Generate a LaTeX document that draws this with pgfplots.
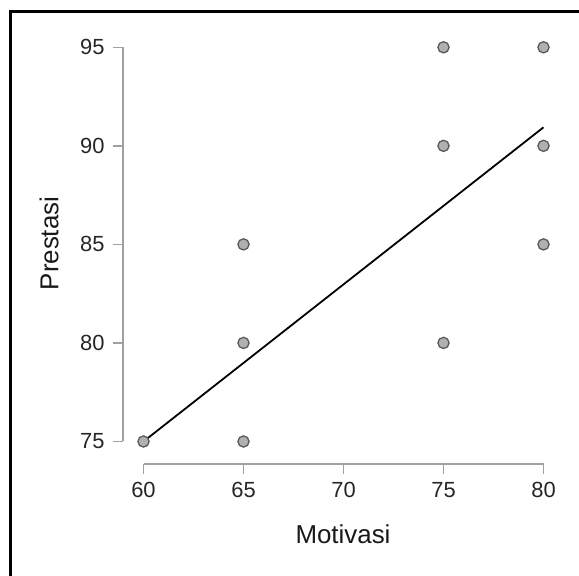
\documentclass[border=0pt]{standalone}
\usepackage{pgfplots}
\pgfplotsset{compat=1.18}
\usepackage{fontspec}
\setmainfont{Liberation Sans}
\definecolor{axgray}{HTML}{A0A0A0}
\definecolor{ptfill}{HTML}{B0B0B0}
\definecolor{ptedge}{HTML}{5A5A5A}
\begin{document}
\begin{tikzpicture}[x=1bp,y=1bp]
\useasboundingbox (0,0) rectangle (579,576);
\draw[line width=3bp,black] (10.5,-5) -- (10.5,564.5) -- (590,564.5);
\begin{axis}[
  at={(123bp,112bp)}, anchor=south west,
  scale only axis, width=420.5bp, height=416.7bp,
  xmin=58.975, xmax=80, ymin=73.858, ymax=95,
  axis line style={draw=none},
  axis x line*=bottom, axis y line*=left,
  xtick={60,65,70,75,80}, ytick={75,80,85,90,95},
  tick align=outside, major tick length=10bp,
  tick style={axgray, line width=1.5bp},
  ticklabel style={font=\fontsize{22}{26}\selectfont, text=black!85},
  xticklabel style={yshift=-5bp},
  yticklabel style={xshift=-5bp},
  /pgf/number format/assume math mode=true,
  clip=false,
  xlabel={Motivasi}, ylabel={Prestasi},
  label style={font=\fontsize{26}{30}\selectfont, text=black!90},
  xlabel style={at={(axis description cs:0.5232,-0.1903)}, anchor=base},
  ylabel style={at={(axis description cs:-0.1539,0.5292)}, anchor=base},
]
\draw[axgray, line width=1.5bp] (axis cs:60,73.858) -- (axis cs:80,73.858);
\draw[axgray, line width=1.5bp] (axis cs:58.975,75) -- (axis cs:58.975,95);
\addplot[only marks, mark=*, mark size=5.6bp, mark options={fill=ptfill, draw=ptedge, line width=1.3bp}] coordinates {
  (60,75) (65,75) (65,80) (65,85) (75,80) (75,90) (75,95) (80,85) (80,90) (80,95)
};
\addplot[black, line width=1.8bp, no marks] coordinates {(60,75) (80,90.94)};
\end{axis}
\end{tikzpicture}
\end{document}
